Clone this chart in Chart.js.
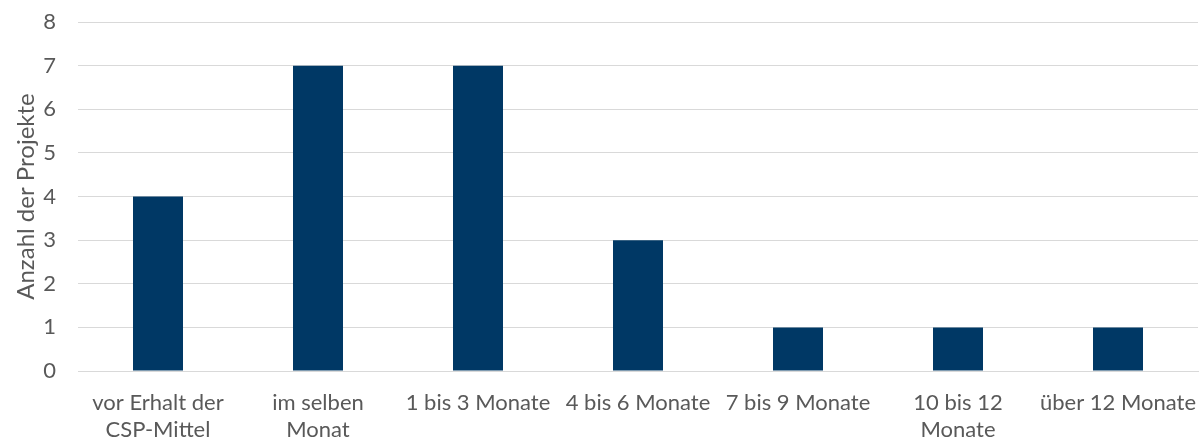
<!DOCTYPE html>
<html>
<head>
<meta charset="utf-8">
<script src="https://cdn.jsdelivr.net/npm/chart.js@4/dist/chart.umd.min.js"></script>
<style>
  html, body { margin: 0; padding: 0; background: #fff; }
  #wrap { width: 1202px; height: 439px; position: relative; }
</style>
</head>
<body>
<div id="wrap"><canvas id="myChart"></canvas></div>
<script>
// Kategorien und Werte
let categories = [
    ["vor Erhalt der", "CSP-Mittel"],
    ["im selben", "Monat"],
    "1 bis 3 Monate",
    "4 bis 6 Monate",
    "7 bis 9 Monate",
    ["10 bis 12", "Monate"],
    "über 12 Monate"
];
let projekte = [4, 7, 7, 3, 1, 1, 1];
let yTicks = [0, 1, 2, 3, 4, 5, 6, 7, 8];

let fontFamily = "Lato, 'Open Sans', sans-serif";
let textColor = "#595959";

let ctx = document.getElementById("myChart").getContext("2d");
let config = {
    type: "bar",
    data: {
        labels: categories,
        datasets: [{
            data: projekte,
            backgroundColor: "#003865",
            categoryPercentage: 1,
            barPercentage: 0.3125
        }]
    },
    options: {
        responsive: true,
        maintainAspectRatio: false,
        animation: false,
        layout: { padding: { top: 22, right: 4, left: 4, bottom: 0 } },
        plugins: {
            legend: { display: false },
            tooltip: { enabled: false }
        },
        scales: {
            x: {
                grid: { display: false, drawTicks: false },
                border: { display: true, color: "#d9d9d9", width: 1 },
                ticks: {
                    color: textColor,
                    font: { family: fontFamily, size: 22, lineHeight: "27px" },
                    maxRotation: 0,
                    autoSkip: false,
                    padding: 18
                },
                afterFit: function(axis) {
                    axis.height = 68;
                    axis.paddingLeft = 0;
                    axis.paddingRight = 0;
                    axis.paddingTop = 0;
                    axis.paddingBottom = 0;
                }
            },
            y: {
                min: 0,
                max: 8,
                afterBuildTicks: function(axis) {
                    axis.ticks = yTicks.map(v => ({ value: v }));
                },
                afterFit: function(axis) {
                    axis.width = 74;
                    axis.paddingTop = 0;
                    axis.paddingBottom = 0;
                },
                grid: { color: "#d9d9d9", lineWidth: 1, drawTicks: false },
                border: { display: false },
                ticks: {
                    color: textColor,
                    font: { family: fontFamily, size: 22 },
                    padding: 22
                },
                title: {
                    display: true,
                    text: "Anzahl der Projekte",
                    color: textColor,
                    font: { family: fontFamily, size: 24 },
                    padding: { top: 8, bottom: 3 }
                }
            }
        }
    }
};
window.myBar = new Chart(ctx, config);
</script>
</body>
</html>
